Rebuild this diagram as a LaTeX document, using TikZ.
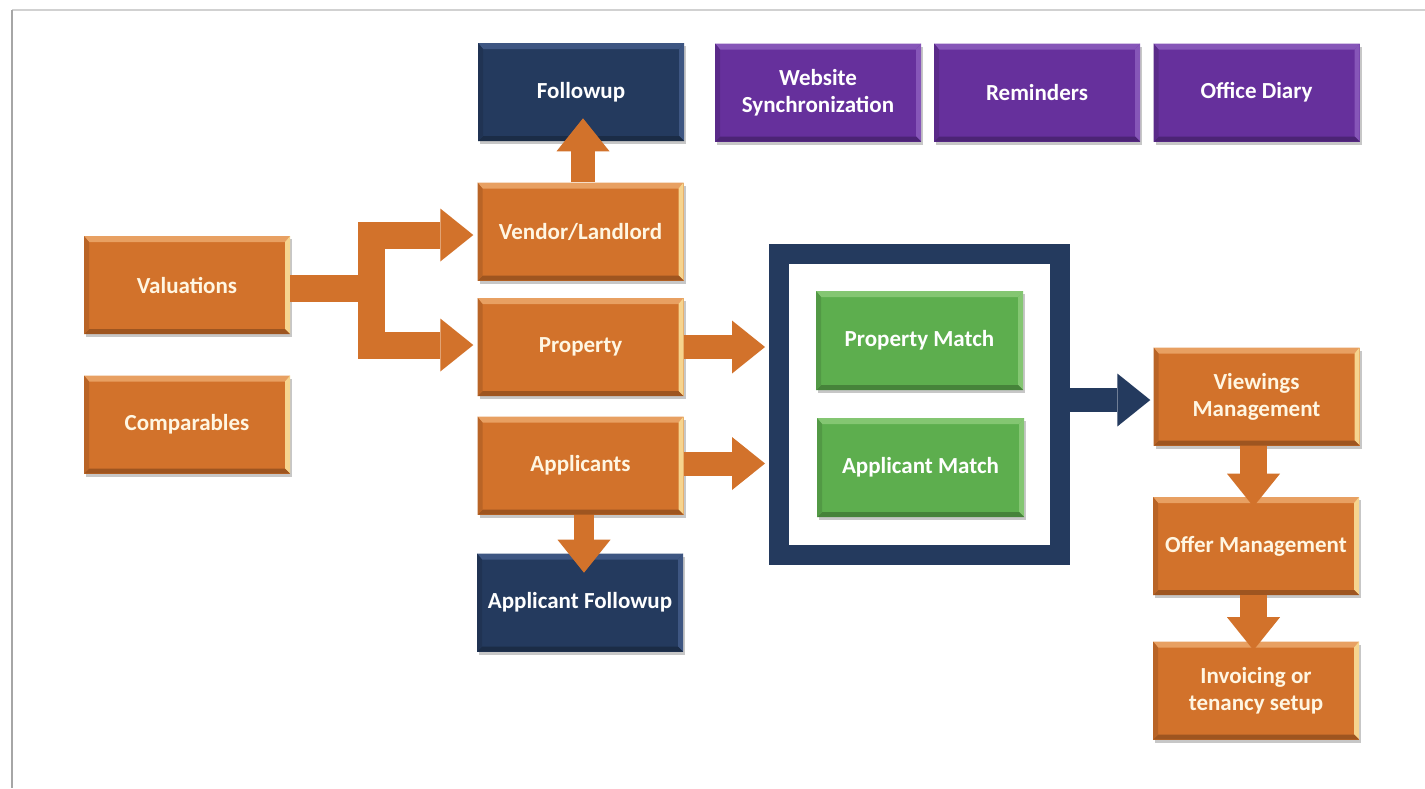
\documentclass[tikz,border=0pt]{standalone}
\usepackage{fontspec}
\setmainfont{Carlito}
\usetikzlibrary{arrows.meta,shadows}
\definecolor{orangeM}{HTML}{D2722B}
\definecolor{orangeT}{HTML}{E8A062}
\definecolor{orangeR}{HTML}{F6D48E}
\definecolor{navyM}{HTML}{243A5E}
\definecolor{navyT}{HTML}{3E5682}
\definecolor{purpleM}{HTML}{66309C}
\definecolor{purpleT}{HTML}{8656B8}
\definecolor{greenM}{HTML}{5DAE4E}
\definecolor{greenT}{HTML}{84C672}
\definecolor{creamT}{HTML}{FFF6E2}
\begin{document}
\begin{tikzpicture}[x=1pt,y=-1pt,
  bevel/.style n args={3}{fill=#1, draw=none,
    minimum width=206pt, minimum height=98pt, inner sep=0pt, align=center,
    font=\fontsize{23}{27}\selectfont\bfseries,
    drop shadow={shadow xshift=2pt,shadow yshift=-3pt,fill=black,opacity=0.22},
    path picture={
      \fill[#2] (path picture bounding box.north west) -- (path picture bounding box.north east)
        -- ([xshift=-5pt,yshift=-6pt]path picture bounding box.north east)
        -- ([xshift=5pt,yshift=-6pt]path picture bounding box.north west) -- cycle;
      \fill[#3] (path picture bounding box.north east) -- (path picture bounding box.south east)
        -- ([xshift=-5pt,yshift=5pt]path picture bounding box.south east)
        -- ([xshift=-5pt,yshift=-6pt]path picture bounding box.north east) -- cycle;
      \fill[#1!75!black] (path picture bounding box.south west) -- (path picture bounding box.south east)
        -- ([xshift=-5pt,yshift=5pt]path picture bounding box.south east)
        -- ([xshift=5pt,yshift=5pt]path picture bounding box.south west) -- cycle;
      \fill[#1!88!black] (path picture bounding box.north west) -- (path picture bounding box.south west)
        -- ([xshift=5pt,yshift=5pt]path picture bounding box.south west)
        -- ([xshift=5pt,yshift=-6pt]path picture bounding box.north west) -- cycle;
    }},
  obox/.style={bevel={orangeM}{orangeT}{orangeR}, text=creamT},
  nbox/.style={bevel={navyM}{navyT}{navyT}, text=white},
  pbox/.style={bevel={purpleM}{purpleT}{purpleT}, text=white},
  gbox/.style={bevel={greenM}{greenT}{greenT}, text=white, minimum width=207pt, minimum height=99pt},
  headtip/.style={-{Triangle[length=33pt,width=53pt,line width=0pt]}},
  oarrow/.style={draw=orangeM, line width=24pt, headtip},
  narrow/.style={draw=navyM, line width=24pt, headtip},
  obar/.style={draw=orangeM, line width=27pt}
]
\useasboundingbox (0,0) rectangle (1425,788);
\fill[white] (0,0) rectangle (1425,788);
\draw[black!18, line width=1.5pt] (12,10) -- (1425,10);
\draw[black!35, line width=2pt] (12,10) -- (12,788);

% top row
\node[nbox] (fu) at (581,92) {Followup};
\node[pbox] (web) at (818,92.5) {Website\\Synchronization};
\node[pbox] (rem) at (1037,92.5) {Reminders};
\node[pbox] (diary) at (1256.5,92.5) {Office Diary};

% left column
\node[obox] (val) at (187,285) {Valuations};
\node[obox] (comp) at (187,424.5) {Comparables};

% middle column
\node[obox] (vend) at (580.5,231.5) {Vendor/Landlord};
\node[obox] (prop) at (580.5,347) {Property};
\node[obox] (appl) at (580.5,465.5) {Applicants};
\node[nbox] (afu) at (580,602.5) {Applicant Followup};

% match frame
\node[draw=navyM, line width=20pt, minimum width=281pt, minimum height=301pt, inner sep=0pt] (frame) at (919.5,404.5) {};
\node[gbox] (pm) at (919.5,340.5) {Property Match};
\node[gbox] (am) at (920.5,467.5) {Applicant Match};

% right column
\node[obox] (view) at (1256.5,396.5) {Viewings\\Management};
\node[obox] (offer) at (1256,546) {Offer Management};
\node[obox] (inv) at (1256,690.5) {Invoicing or\\tenancy setup};

% connectors
\coordinate (split) at (371,288.5);
\draw[obar] ([yshift=-3.5pt]val.east) -- (split);
\draw[draw=orangeM, line width=27pt, line join=miter,
  {Triangle[length=33pt,width=53pt,line width=0pt]}-{Triangle[length=33pt,width=53pt,line width=0pt]}]
  ([xshift=-4pt,yshift=2pt]prop.west) -- ([yshift=2pt]prop.west -| split)
  -- ([yshift=-3.5pt]vend.west -| split) -- ([xshift=-4pt,yshift=-3.5pt]vend.west);
\draw[oarrow] ([xshift=2.5pt]vend.north) -- ++(0,-64);
\draw[oarrow, line width=20pt] ([xshift=3.5pt]appl.south) -- ++(0,58);
\draw[oarrow] (prop.east) -- ([xshift=-4pt]prop.east -| frame.west);
\draw[oarrow] ([yshift=2pt]appl.east) -- ([xshift=-4pt,yshift=2pt]appl.east -| frame.west);
\draw[narrow] ([yshift=4.5pt]frame.east) -- ([xshift=-3pt,yshift=4.5pt]frame.east -| view.west);
\draw[oarrow, line width=27pt] ([xshift=-3pt]view.south) -- ++(0,61);
\draw[oarrow, line width=27pt] ([xshift=-2.5pt]offer.south) -- ++(0,55);
\end{tikzpicture}
\end{document}
